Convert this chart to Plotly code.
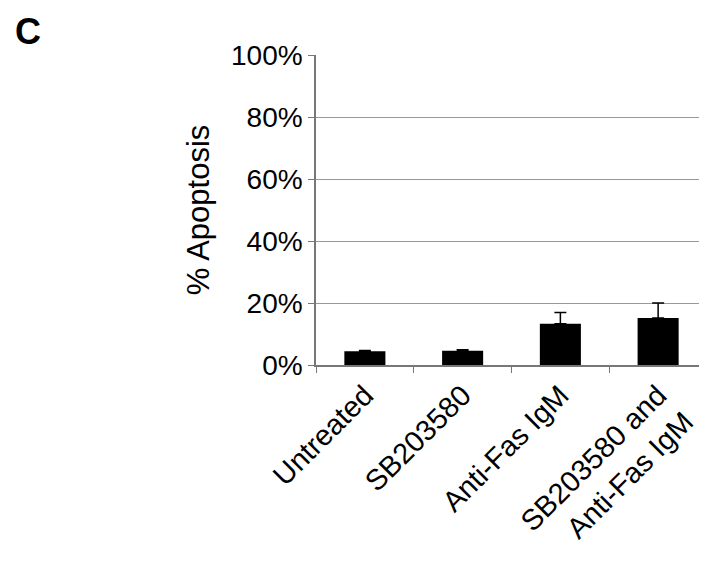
import plotly.graph_objects as go

categories = ["Untreated", "SB203580", "Anti-Fas IgM", "SB203580 and<br>Anti-Fas IgM"]
apoptosis_pct = [4.4, 4.6, 13.3, 15.2]
error_pct = [0.3, 0.3, 3.6, 4.8]
y_ticks = [0, 20, 40, 60, 80, 100]
y_tick_labels = [f"{v}%" for v in y_ticks]

FONT = "Liberation Sans, Arial, sans-serif"

L, T, PW, PH = 308, 47, 391, 312

fig = go.Figure(
    go.Bar(
        x=categories,
        y=apoptosis_pct,
        width=0.42,
        marker=dict(color="black", line=dict(width=0)),
        error_y=dict(
            type="data",
            symmetric=False,
            array=error_pct,
            arrayminus=[0] * len(error_pct),
            color="black",
            thickness=1.5,
            width=6,
        ),
    )
)

fig.update_layout(
    width=707,
    height=564,
    margin=dict(l=L, r=707 - L - PW, t=T, b=564 - T - PH),
    paper_bgcolor="white",
    plot_bgcolor="white",
    showlegend=False,
    font=dict(family=FONT, color="black", size=28),
    xaxis=dict(
        range=[-0.5, 3.5],
        tickangle=-45,
        tickson="boundaries",
        ticks="outside",
        ticklen=6,
        tickcolor="#777",
        showline=True,
        linecolor="#777",
        linewidth=1.5,
        showgrid=False,
        tickfont=dict(size=29),
    ),
    yaxis=dict(
        range=[0, 100],
        tickvals=y_ticks,
        ticktext=y_tick_labels,
        ticks="outside",
        ticklen=6,
        tickcolor="#777",
        showline=True,
        linecolor="#777",
        linewidth=1.5,
        showgrid=True,
        gridcolor="#999",
        gridwidth=1,
        zeroline=False,
        tickfont=dict(size=28),
        title=dict(text="% Apoptosis", font=dict(size=31), standoff=12),
    ),
    annotations=[
        dict(
            text="<b>C</b>",
            xref="paper", yref="paper",
            x=(6 - L) / PW, y=1 + (T - 2) / PH,
            xanchor="left", yanchor="top",
            showarrow=False,
            borderpad=0,
            font=dict(size=36, family=FONT, color="black"),
        )
    ],
)

fig.write_html("out.html")
